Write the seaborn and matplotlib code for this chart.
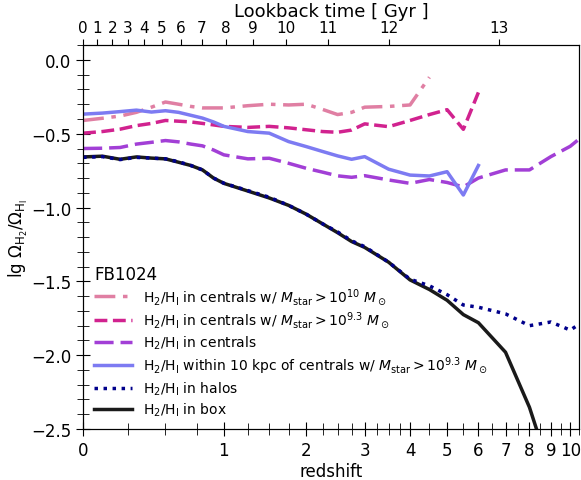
import numpy as np
import pandas as pd
import matplotlib
matplotlib.use("Agg")
import matplotlib.pyplot as plt
import seaborn as sns
from matplotlib.ticker import FixedLocator, MultipleLocator

nan = np.nan

# snapshot redshifts
redshift = [0, 0.1, 0.2, 0.3, 0.4, 0.5, 0.6, 0.7, 0.8, 0.9, 1.0, 1.25, 1.5, 1.75, 2.0,
            2.25, 2.5, 2.75, 3.0, 3.5, 4.0, 4.5, 5.0, 5.5, 6.0, 7.0, 8.0, 9.0, 10.0, 10.5]

# lg(Omega_H2 / Omega_HI) for each selection
cen_m10 = [-0.41, -0.395, -0.38, -0.355, -0.32, -0.285, -0.30, -0.315, -0.325, -0.325,
           -0.325, -0.31, -0.30, -0.305, -0.30, -0.335, -0.37, -0.355, -0.32, -0.315,
           -0.305, -0.117, nan, nan, nan, nan, nan, nan, nan, nan]
cen_m93 = [-0.496, -0.485, -0.469, -0.445, -0.43, -0.41, -0.415, -0.42, -0.43, -0.44,
           -0.45, -0.457, -0.45, -0.46, -0.473, -0.485, -0.49, -0.475, -0.433, -0.452,
           -0.41, -0.37, -0.337, -0.47, -0.22, nan, nan, nan, nan, nan]
cen_all = [-0.60, -0.598, -0.593, -0.57, -0.558, -0.546, -0.555, -0.57, -0.582, -0.61,
           -0.643, -0.67, -0.666, -0.70, -0.734, -0.76, -0.785, -0.795, -0.784, -0.813,
           -0.836, -0.81, -0.83, -0.86, -0.80, -0.745, -0.745, -0.655, -0.585, -0.535]
cen_10kpc = [-0.367, -0.36, -0.35, -0.34, -0.353, -0.344, -0.355, -0.375, -0.394, -0.42,
             -0.45, -0.485, -0.496, -0.553, -0.587, -0.62, -0.65, -0.673, -0.655, -0.74,
             -0.78, -0.786, -0.757, -0.915, -0.715, nan, nan, nan, nan, nan]
halos = [-0.66, -0.655, -0.675, -0.66, -0.665, -0.67, -0.69, -0.715, -0.745, -0.80,
         -0.835, -0.885, -0.93, -0.985, -1.045, -1.11, -1.165, -1.225, -1.265, -1.37,
         -1.485, -1.53, -1.59, -1.66, -1.675, -1.72, -1.80, -1.775, -1.83, -1.79]
box = [-0.657, -0.652, -0.673, -0.657, -0.665, -0.67, -0.693, -0.715, -0.745, -0.80,
       -0.836, -0.888, -0.935, -0.985, -1.045, -1.11, -1.17, -1.23, -1.27, -1.37,
       -1.49, -1.555, -1.628, -1.725, -1.78, -1.98, -2.353, -2.8, nan, nan]

z_ticks = [0, 1, 2, 3, 4, 5, 6, 7, 8, 9, 10]
lookback_ticks = [0, 1, 2, 3, 4, 5, 6, 7, 8, 9, 10, 11, 12, 13]

df = pd.DataFrame({"z": redshift, "cen_m10": cen_m10, "cen_m93": cen_m93,
                   "cen_all": cen_all, "cen_10kpc": cen_10kpc,
                   "halos": halos, "box": box})
df["x"] = np.log10(1 + df["z"])

hh = r"H$_2$/H$_\mathrm{I}$"
series = [
    ("cen_m10", hh + r" in centrals w/ $M_\mathrm{star} > 10^{10}\ M_\odot$",
     "#e07fa3", (0, (6, 2.2, 1.3, 2.2)), 2),
    ("cen_m93", hh + r" in centrals w/ $M_\mathrm{star} > 10^{9.3}\ M_\odot$",
     "#d1228f", (0, (3.7, 1.6)), 2),
    ("cen_all", hh + " in centrals", "#a23fd6", (0, (5.5, 2)), 2),
    ("cen_10kpc", hh + r" within 10 kpc of centrals w/ $M_\mathrm{star} > 10^{9.3}\ M_\odot$",
     "#7d7bf2", "-", 2),
    ("halos", hh + " in halos", "#00008b", (0, (1, 1.6)), 4),
    ("box", hh + " in box", "#1a1a1a", "-", 3),
]

fig, ax = plt.subplots(figsize=(5.81, 4.81), dpi=100)
fig.subplots_adjust(left=0.143, right=0.997, bottom=0.106, top=0.904)

for col, label, color, ls, zo in series:
    sns.lineplot(data=df, x="x", y=col, ax=ax, color=color, lw=2.5, linestyle=ls,
                 label=label, errorbar=None, zorder=zo)

xmax = np.log10(1 + 10.5)
ax.set_xlim(0, xmax)
ax.set_ylim(-2.5, 0.1)

ax.xaxis.set_major_locator(FixedLocator(np.log10(1 + np.array(z_ticks))))
ax.set_xticklabels([str(t) for t in z_ticks])
minor_z = np.concatenate([np.arange(0, 4, 0.25), np.arange(4, 10.6, 0.5)])
ax.xaxis.set_minor_locator(FixedLocator(np.log10(1 + minor_z)))
ax.yaxis.set_major_locator(MultipleLocator(0.5))
ax.yaxis.set_minor_locator(MultipleLocator(0.1))
ax.tick_params(which="both", direction="inout", labelsize=12, top=False, right=False)
ax.tick_params(which="major", length=10)
ax.tick_params(which="minor", length=8)

ax.set_xlabel("redshift", fontsize=12, labelpad=2)
ax.set_ylabel(r"lg $\Omega_{\mathrm{H}_2}/\Omega_{\mathrm{H_I}}$", fontsize=12, labelpad=1)

# lookback time axis on top (Planck15-like cosmology)
H0, Om, OL = 67.74, 0.3089, 0.6911
t_H = 977.79 / H0
zz = np.linspace(0, 30, 60001)
integrand = 1 / ((1 + zz) * np.sqrt(Om * (1 + zz) ** 3 + OL))
tl = t_H * np.concatenate([[0], np.cumsum(0.5 * (integrand[1:] + integrand[:-1]) * np.diff(zz))])
tick_z = np.interp(lookback_ticks, tl, zz)

ax2 = ax.twiny()
ax2.set_xlim(ax.get_xlim())
ax2.xaxis.set_major_locator(FixedLocator(np.log10(1 + tick_z)))
ax2.set_xticklabels([str(t) for t in lookback_ticks])
ax2.tick_params(direction="out", length=4, labelsize=11, pad=3)
ax2.set_xlabel("Lookback time [ Gyr ]", fontsize=13, labelpad=3)

leg = ax.legend(loc="lower left", title="FB1024", frameon=False, fontsize=10,
                title_fontsize=12, handlelength=2.7, alignment="left",
                borderaxespad=0.4, labelspacing=0.25)

fig.savefig("out.png", dpi=100)
